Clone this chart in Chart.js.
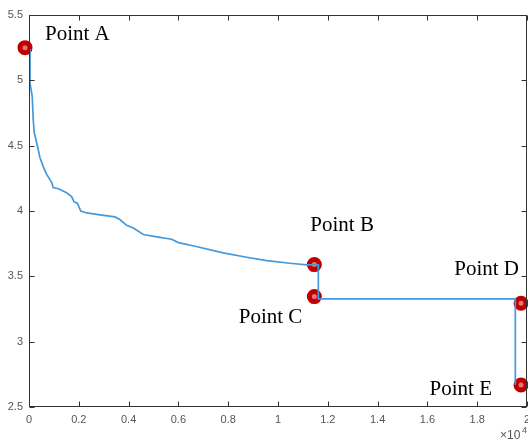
<!DOCTYPE html>
<html>
<head>
<meta charset="utf-8">
<script src="https://cdn.jsdelivr.net/npm/chart.js@4.4.1/dist/chart.umd.min.js"></script>
<style>
  html, body { margin: 0; padding: 0; background: #fff; }
  #wrap { width: 528px; height: 441px; position: relative; }
</style>
</head>
<body>
<div id="wrap"><canvas id="myChart"></canvas></div>
<script>
// iterations (x) and objective value (y) of the descent curve
const iterX = [0, 40, 130, 170, 210, 310, 440, 570, 710, 910, 970, 1180, 1510, 1710, 1810, 1940, 2080, 2320, 2850, 3450,
  3650, 3920, 4190, 4590, 5190, 5730, 6000, 6670, 7800, 8740, 9550, 10480, 11150, 11620, 11620, 19530, 19530];
const valueY = [5.24, 4.98, 4.875, 4.70, 4.60, 4.52, 4.41, 4.34, 4.28, 4.22, 4.18, 4.17, 4.14, 4.11, 4.07, 4.06, 4.00, 3.985, 3.97, 3.955,
  3.935, 3.89, 3.87, 3.82, 3.80, 3.784, 3.758, 3.73, 3.68, 3.646, 3.62, 3.60, 3.587, 3.587, 3.327, 3.327, 2.67];

// highlighted points
const pointNames = ["Point A", "Point B", "Point C", "Point D", "Point E"];
const pointX = [-160, 11460, 11460, 19760, 19760];
const pointY = [5.25, 3.59, 3.345, 3.294, 2.668];

const xTicks = [0, 2000, 4000, 6000, 8000, 10000, 12000, 14000, 16000, 18000, 20000];
const yTicks = [2.5, 3, 3.5, 4, 4.5, 5, 5.5];

// label placement relative to marker: [dx, dy(baseline), align]
const labelOffsets = [[20, -8, "left"], [-4, -34, "left"], [-12, 26, "right"], [-2, -28, "right"], [-29, 10, "right"]];

const boxPlugin = {
    id: "box",
    afterDraw(chart) {
        let c = chart.ctx, a = chart.chartArea, xs = chart.scales.x, ys = chart.scales.y;
        let L = Math.round(a.left) + .5, R = Math.round(a.right) - .5, T = Math.round(a.top) + .5, B = Math.round(a.bottom) - .5;
        c.save();
        c.strokeStyle = "#333";
        c.lineWidth = 1;
        c.strokeRect(L, T, R - L, B - T);
        c.beginPath();
        xTicks.forEach(v => {
            let p = Math.round(xs.getPixelForValue(v)) + .5;
            c.moveTo(p, B); c.lineTo(p, B - 5);
            c.moveTo(p, T); c.lineTo(p, T + 5);
        });
        yTicks.forEach(v => {
            let p = Math.round(ys.getPixelForValue(v)) + .5;
            c.moveTo(L, p); c.lineTo(L + 5, p);
            c.moveTo(R, p); c.lineTo(R - 5, p);
        });
        c.stroke();
        // exponent label
        c.fillStyle = "#555";
        c.font = "12px 'Liberation Sans', Arial, sans-serif";
        c.textAlign = "left";
        c.textBaseline = "alphabetic";
        c.fillText("\u00d710", 500, 439);
        c.font = "9px 'Liberation Sans', Arial, sans-serif";
        c.fillText("4", 522, 433);
        // point labels
        c.fillStyle = "#000";
        c.font = "21px 'Liberation Serif', 'Times New Roman', serif";
        pointNames.forEach((n, i) => {
            let px = xs.getPixelForValue(pointX[i]), py = ys.getPixelForValue(pointY[i]);
            let o = labelOffsets[i];
            c.textAlign = o[2];
            c.fillText(n, px + o[0], py + o[1]);
        });
        c.restore();
    }
};

new Chart(document.getElementById("myChart"), {
    type: "scatter",
    data: {
        datasets: [{
            label: "curve",
            data: iterX.map((x, i) => ({ x: x, y: valueY[i] })),
            showLine: true,
            borderColor: "#4599da",
            borderWidth: 1.7,
            pointRadius: 0,
            tension: 0
        }, {
            label: "points",
            data: pointX.map((x, i) => ({ x: x, y: pointY[i] })),
            showLine: false,
            clip: false,
            pointRadius: 5,
            pointBorderWidth: 5,
            pointBackgroundColor: "#e07878",
            pointBorderColor: "#c00000",
            pointHoverRadius: 5
        }]
    },
    plugins: [boxPlugin],
    options: {
        responsive: true,
        maintainAspectRatio: false,
        animation: false,
        layout: { autoPadding: false, padding: { top: 15, right: 1, left: 0, bottom: 0 } },
        plugins: { legend: { display: false }, tooltip: { enabled: false } },
        scales: {
            x: {
                type: "linear",
                min: 0,
                max: 20000,
                afterBuildTicks: s => { s.ticks = xTicks.map(v => ({ value: v })); },
                afterFit: s => { s.height = 34; s.paddingLeft = 0; s.paddingRight = 0; },
                grid: { display: false, drawTicks: false },
                border: { display: false },
                ticks: {
                    autoSkip: false,
                    maxRotation: 0,
                    padding: 6,
                    color: "#555",
                    font: { family: "'Liberation Sans', Arial, sans-serif", size: 11 },
                    callback: v => String(parseFloat((v / 10000).toFixed(1)))
                }
            },
            y: {
                min: 2.5,
                max: 5.5,
                afterBuildTicks: s => { s.ticks = yTicks.map(v => ({ value: v })); },
                afterFit: s => { s.width = 29; s.paddingTop = 0; s.paddingBottom = 0; },
                grid: { display: false, drawTicks: false },
                border: { display: false },
                ticks: {
                    autoSkip: false,
                    padding: 6,
                    color: "#555",
                    font: { family: "'Liberation Sans', Arial, sans-serif", size: 11 },
                    callback: v => String(v)
                }
            }
        }
    }
});
</script>
</body>
</html>
